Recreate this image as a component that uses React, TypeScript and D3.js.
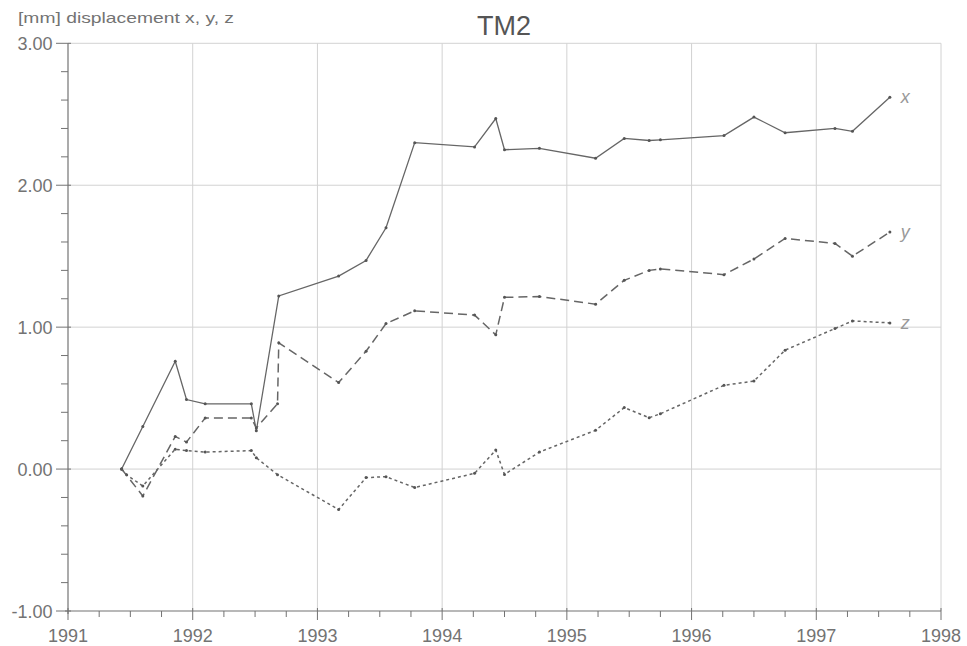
import React from "react";
import * as d3 from "d3";

// survey epochs (decimal years) shared by the three components
const epochs = [
  1991.43, 1991.47, 1991.6, 1991.86, 1991.95, 1992.1, 1992.47, 1992.51, 1992.68, 1992.69,
  1993.17, 1993.39, 1993.55, 1993.78, 1994.26, 1994.43, 1994.5, 1994.78, 1995.23, 1995.46,
  1995.66, 1995.75, 1996.26, 1996.5, 1996.75, 1997.15, 1997.29, 1997.59,
];

// displacement in mm, null = no reading for that component
const dispX = [
  0, null, 0.3, 0.76, 0.49, 0.46, 0.46, 0.27, null, 1.22,
  1.36, 1.47, 1.7, 2.3, 2.27, 2.47, 2.25, 2.26, 2.19, 2.33,
  2.315, 2.32, 2.35, 2.48, 2.37, 2.4, 2.38, 2.62,
];
const dispY = [
  0, null, -0.19, 0.23, 0.19, 0.36, 0.36, 0.29, 0.46, 0.89,
  0.61, 0.83, 1.025, 1.115, 1.085, 0.946, 1.21, 1.216, 1.162, 1.33,
  1.4, 1.41, 1.37, 1.48, 1.625, 1.59, 1.5, 1.67,
];
const dispZ = [
  0, -0.04, -0.12, 0.14, 0.13, 0.12, 0.13, 0.08, -0.04, null,
  -0.285, -0.06, -0.054, -0.13, -0.03, 0.134, -0.038, 0.12, 0.273, 0.433,
  0.362, 0.39, 0.59, 0.62, 0.838, 0.99, 1.044, 1.03,
];

const seriesNames = ["x", "y", "z"];
const yearTicks = [1991, 1992, 1993, 1994, 1995, 1996, 1997, 1998];
const valueTicks = [-1, 0, 1, 2, 3];

const W = 967;
const H = 646;
const left = 68;
const right = 941;
const top = 43.3;
const bottom = 611;

const ink = "#737373";
const lineCol = "#666";
const gridCol = "#d2d2d2";

export default function App() {
  const x = d3.scaleLinear().domain([1991, 1998]).range([left, right]);
  const y = d3.scaleLinear().domain([-1, 3]).range([bottom, top]);

  const all = [dispX, dispY, dispZ];
  const dashes = [undefined, "9,5", "3,3"];

  const minorX = d3.range(1991, 1998.001, 0.25).filter((t) => Math.abs(t - Math.round(t)) > 0.01);
  const minorY = d3.range(-1, 3.001, 0.2).filter((v) => Math.abs(v - Math.round(v)) > 0.01);

  const line = d3
    .line<[number, number]>()
    .x((d) => x(d[0]))
    .y((d) => y(d[1]));

  return (
    <svg
      width={W}
      height={H}
      style={{ position: "absolute", left: 0, top: 0, background: "#fff" }}
      fontFamily="'Liberation Sans', Arial, sans-serif"
    >
      {/* grid */}
      {yearTicks.slice(1).map((t) => (
        <line key={"gx" + t} x1={x(t)} x2={x(t)} y1={top} y2={bottom} stroke={gridCol} strokeWidth={1} />
      ))}
      {valueTicks.slice(1).map((v) => (
        <line key={"gy" + v} x1={left} x2={right} y1={y(v)} y2={y(v)} stroke={gridCol} strokeWidth={1} />
      ))}

      {/* axes */}
      <line x1={left} x2={left} y1={top} y2={bottom + 3} stroke={ink} strokeWidth={1.2} />
      <line x1={left - 3} x2={right} y1={bottom} y2={bottom} stroke={ink} strokeWidth={1.2} />

      {valueTicks.map((v) => (
        <g key={"ty" + v}>
          <line x1={left - 12} x2={left + 3} y1={y(v)} y2={y(v)} stroke={ink} strokeWidth={1} />
          <text x={52.5} y={y(v) + 6.6} textAnchor="end" fontSize={18} fill={ink}>
            {d3.format(".2f")(v).replace("\u2212", "-")}
          </text>
        </g>
      ))}
      {minorY.map((v, i) => (
        <line key={"my" + i} x1={left - 7} x2={left} y1={y(v)} y2={y(v)} stroke={ink} strokeWidth={1} />
      ))}

      {yearTicks.map((t) => (
        <g key={"tx" + t}>
          <line x1={x(t)} x2={x(t)} y1={bottom - 3} y2={bottom + 9} stroke={ink} strokeWidth={1} />
          <text x={x(t)} y={641.5} textAnchor="middle" fontSize={18} fill={ink}>
            {t}
          </text>
        </g>
      ))}
      {minorX.map((t, i) => (
        <line key={"mx" + i} x1={x(t)} x2={x(t)} y1={bottom} y2={bottom + 6} stroke={ink} strokeWidth={1} />
      ))}

      {/* series */}
      {all.map((vals, si) => {
        const pts = epochs
          .map((t, i) => [t, vals[i]] as [number, number | null])
          .filter((d) => d[1] !== null) as [number, number][];
        return (
          <g key={"s" + si}>
            <path
              d={line(pts) ?? ""}
              fill="none"
              stroke={lineCol}
              strokeWidth={si === 0 ? 1.3 : 1.5}
              strokeDasharray={dashes[si]}
            />
            {pts.map((p, j) => (
              <circle key={j} cx={x(p[0])} cy={y(p[1])} r={1.5} fill="#555" />
            ))}
            <text
              x={x(pts[pts.length - 1][0]) + 11}
              y={y(pts[pts.length - 1][1]) + 6}
              fontSize={18}
              fontStyle="italic"
              fill="#999"
            >
              {seriesNames[si]}
            </text>
          </g>
        );
      })}

      {/* titles */}
      <text x={504} y={35} textAnchor="middle" fontSize={27} fill="#555">
        TM2
      </text>
      <text x={18} y={23} fontSize={15} fill={ink} textLength={216} lengthAdjust="spacingAndGlyphs">
        [mm] displacement x, y, z
      </text>
    </svg>
  );
}
